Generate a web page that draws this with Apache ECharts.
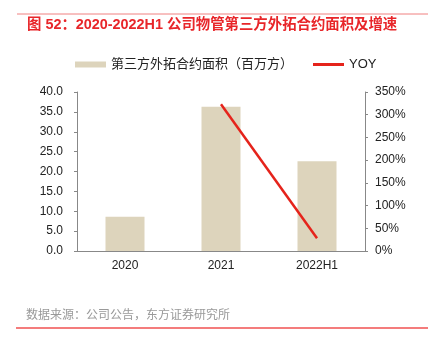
<!DOCTYPE html>
<html><head><meta charset="utf-8">
<script src="https://cdn.jsdelivr.net/npm/echarts@6/dist/echarts.min.js"></script>
<style>html,body{margin:0;padding:0;background:#fff}#c{width:434px;height:337px}</style>
</head><body><div id="c"></div>
<script>
const categories = ['2020', '2021', '2022H1'];
const areaValues = [8.6, 36.3, 22.6];
const yoyValues = [null, 323, 28];
const leftTicks = [0, 40, 5];
const rightTicks = [0, 350, 50];

const chart = echarts.init(document.getElementById('c'));
const font = '"Liberation Sans", "Noto Sans CJK SC", sans-serif';
chart.setOption({
  animation: false,
  textStyle: { fontFamily: font },
  graphic: [
    { type: 'line', shape: { x1: 17, y1: 14, x2: 428, y2: 14 }, style: { stroke: '#f08080', lineWidth: 1 } },
    { type: 'text', left: 27, top: 18, style: { text: '图 52：2020-2022H1 公司物管第三方外拓合约面积及增速', fill: '#e8262a', font: 'bold 14.4px "Liberation Sans", "Noto Sans CJK SC", sans-serif' } },
    { type: 'text', left: 26, top: 308, style: { text: '数据来源：公司公告，东方证券研究所', fill: '#999', font: '12px "Noto Sans CJK SC", sans-serif' } },
    { type: 'line', shape: { x1: 16, y1: 328, x2: 428, y2: 328 }, style: { stroke: '#f05050', lineWidth: 1.5 } }
  ],
  legend: [
    { left: 70, top: 53, itemWidth: 31, itemHeight: 6,
      textStyle: { fontSize: 13, color: '#222', fontFamily: font },
      data: [{ name: '第三方外拓合约面积（百万方）', icon: 'rect' }] },
    { left: 308, top: 53, itemWidth: 31, itemHeight: 3,
      textStyle: { fontSize: 13, color: '#222', fontFamily: font },
      data: [{ name: 'YOY', icon: 'rect' }] }
  ],
  grid: { left: 77, right: 69, top: 92, bottom: 86 },
  xAxis: {
    type: 'category', data: categories,
    axisLine: { lineStyle: { color: '#888' } },
    axisTick: { inside: true, length: 4, lineStyle: { color: '#888' } },
    axisLabel: { color: '#222', fontSize: 12, margin: 9 }
  },
  yAxis: [
    { type: 'value', min: leftTicks[0], max: leftTicks[1], interval: leftTicks[2],
      axisLine: { show: true, lineStyle: { color: '#888' } },
      axisTick: { show: true, length: 3, lineStyle: { color: '#888' } },
      splitLine: { show: false },
      axisLabel: { color: '#222', fontSize: 12, margin: 14, formatter: v => v.toFixed(1) } },
    { type: 'value', min: rightTicks[0], max: rightTicks[1], interval: rightTicks[2],
      axisLine: { show: true, lineStyle: { color: '#888' } },
      axisTick: { show: true, length: 3, lineStyle: { color: '#888' } },
      splitLine: { show: false },
      axisLabel: { color: '#222', fontSize: 12, margin: 10, formatter: v => v + '%' } }
  ],
  series: [
    { name: '第三方外拓合约面积（百万方）', type: 'bar', data: areaValues, barWidth: 39,
      itemStyle: { color: '#ddd4bc' } },
    { name: 'YOY', type: 'line', yAxisIndex: 1, data: yoyValues, symbol: 'none',
      lineStyle: { color: '#e5231b', width: 2.5 }, itemStyle: { color: '#e5231b' } }
  ]
});
</script></body></html>
